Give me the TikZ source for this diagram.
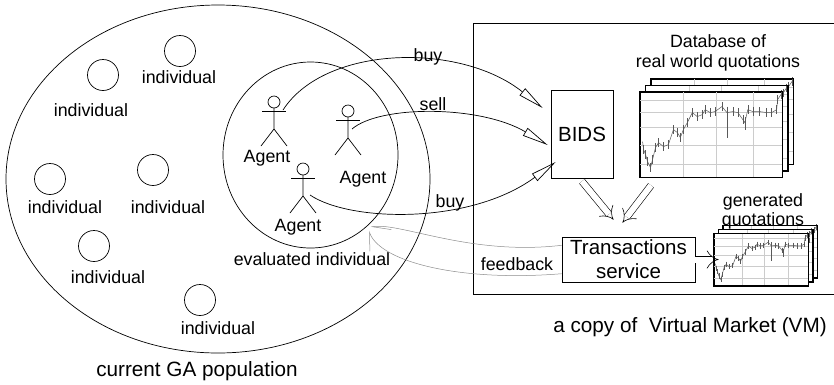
\documentclass[tikz,border=0pt]{standalone}
\usepackage{fontspec}
\setmainfont{Liberation Sans}
\usepackage{tikz}
\usetikzlibrary{arrows.meta, shapes.geometric}
\definecolor{gridgray}{gray}{0.80}
\definecolor{pricegray}{gray}{0.35}
\definecolor{fbgray}{gray}{0.55}

\tikzset{
  pop/.style={draw, ellipse, inner sep=0pt},
  indiv/.style={draw, circle, minimum size=31pt, inner sep=0pt},
  box/.style={draw, inner sep=0pt, align=center, font=\fontsize{20.5}{24}\selectfont},
  caption/.style={font=\fontsize{20.7}{23}\selectfont},
  chart/.style={draw, fill=white, inner sep=0pt, line width=0.8pt},
  gridline/.style={gridgray, line width=0.4pt},
  series/.style={pricegray, line width=0.5pt},
  trade/.style={-{Triangle[open, length=26pt, width=9pt]}},
  feedback/.style={fbgray, line width=0.5pt, -{Straight Barb[harpoon, length=18pt, width=12pt]}},
  bigarrow/.style={double, double distance=6pt, line width=0.6pt, -{Implies}},
}

% price series of one quotation chart, unit box, y runs downwards
\def\pricelist{0.028/0.682, 0.042/0.741, 0.056/0.824, 0.077/0.894, 0.091/0.8,
  0.112/0.659, 0.133/0.6, 0.168/0.647, 0.203/0.624, 0.238/0.447, 0.266/0.482,
  0.287/0.541, 0.308/0.447, 0.336/0.365, 0.371/0.247, 0.406/0.294, 0.441/0.271,
  0.462/0.212, 0.497/0.247, 0.531/0.235, 0.580/0.176, 0.615/0.247, 0.657/0.235,
  0.692/0.247, 0.727/0.329, 0.741/0.365, 0.762/0.212, 0.797/0.235, 0.846/0.235,
  0.895/0.247, 0.930/0.247, 0.965/0.212, 0.972/0.094, 0.995/0.035}

% #1 name, #2 x, #3 y, #4 width, #5 height
\newcommand{\quotechart}[5]{%
  \node[chart, minimum width=#4pt, minimum height=#5pt] (#1) at (#2,#3) {};
  \begin{scope}[shift={(#1.north west)}, xscale=#4, yscale=#5]
    \foreach \gx in {0.308,0.538,0.797}
      \draw[gridline] (\gx,0) -- (\gx,1);
    \foreach \gy in {0.106,0.247,0.424,0.635,0.859}
      \draw[gridline] (0,\gy) -- (1,\gy);
    \draw[series] (0.021,0.588) \foreach \u/\v in \pricelist {-- (\u,\v)};
    \foreach \u/\v in \pricelist
      \draw[series] (\u,\v-0.05) -- (\u,\v+0.05);
    \draw[series] (0.615,0.176) -- (0.615,0.541);
    \draw[series] (0.741,0.3) -- (0.741,0.45);
  \end{scope}
  \draw[line width=0.8pt] (#1.north west) rectangle (#1.south east);
}

% #1 name, #2 x, #3 y of the head
\newcommand{\stickman}[3]{%
  \coordinate (#1) at (#2,#3);
  \draw (#1) circle [radius=6];
  \draw (#2,#3+6) -- (#2,#3+27) -- (#2-13,#3+44);
  \draw (#2,#3+27) -- (#2+13,#3+44);
  \draw (#2-12,#3+9) -- (#2+12,#3+9);
}

\begin{document}
\begin{tikzpicture}[x=1pt, y=-1pt, line width=0.7pt, font=\fontsize{17.8}{20}\selectfont]
  \useasboundingbox (0,0) rectangle (834,384);

  % current population
  \node[pop, minimum width=424pt, minimum height=348pt] (pop) at (218,179) {};
  \node[caption] (poplbl) at (197,371) {current GA population};
  \foreach \cx/\cy/\lx/\ly [count=\i] in {180/51/179/77, 103/75/91/110,
      50/179/65/207, 153/170/168/207, 94/246/108/277, 200/300/218/328} {
    \node[indiv] (ind\i) at (\cx,\cy) {};
    \node (indlbl\i) at (\lx,\ly) {individual};
  }

  % the individual under evaluation and its agents
  \node[pop, minimum width=175pt, minimum height=186pt] (ev) at (310.5,155) {};
  \node (evlbl) at (312,259) {evaluated individual};
  \stickman{ag1}{274}{102}
  \stickman{ag2}{348}{111}
  \stickman{ag3}{303}{169}
  \node[anchor=base] (ag1lbl) at (267,162) {Agent};
  \node[anchor=base] (ag2lbl) at (363,183) {Agent};
  \node[anchor=base] (ag3lbl) at (298,231) {Agent};

  % virtual market
  \draw (834,23) -| (473,294) -- (834,294);
  \node[caption] (vmlbl) at (690,327) {a copy of\ \ Virtual Market (VM)};
  \node[box, minimum width=62pt, minimum height=88pt] (bids) at (582,134) {BIDS};
  \node[box, minimum width=133pt, minimum height=45pt] (trans) at (628.5,259.5) {Transactions\\service};

  % real quotations
  \quotechart{db3}{722}{121.5}{142}{85}
  \quotechart{db2}{716.5}{128}{142}{85}
  \quotechart{db1}{711}{134.5}{142}{85}
  \node[align=center] (dblbl) at (718,53) {Database of\\real world quotations};

  % generated quotations
  \quotechart{gen3}{770}{251.5}{94}{52}
  \quotechart{gen2}{765.5}{255.5}{94}{52}
  \quotechart{gen1}{761}{259.5}{94}{52}
  \node[align=center, font=\fontsize{17.8}{19}\selectfont] (genlbl) at (763,211.5) {generated\\quotations};

  % orders
  \draw[trade] ([xshift=9pt, yshift=-8pt]ag1) .. controls (325,45) and (460,42) .. ([xshift=-8pt, yshift=26pt]bids.west);
  \draw[trade] ([xshift=4pt, yshift=-18pt]ag2) .. controls (380,105) and (480,105) .. ([xshift=-3pt, yshift=-11pt]bids.west);
  \draw[trade] ([xshift=7pt, yshift=-26pt]ag3) .. controls (350,222) and (470,225) .. ([xshift=5pt, yshift=-28pt]bids.west);
  \node[anchor=base] (buy1) at (428,61) {buy};
  \node[anchor=base] (sell) at (433,110.5) {sell};
  \node[anchor=base] (buy2) at (450,207.5) {buy};

  \draw[bigarrow] ([yshift=-3pt]bids.south) -- ([xshift=-15pt, yshift=17pt]trans.north);
  \draw[bigarrow] ([xshift=-60pt, yshift=-8pt]db1.south) -- ([xshift=-6pt, yshift=14pt]trans.north);
  \draw[bigarrow] (trans.east) -- ([xshift=5pt]gen1.west);

  % feedback to the evaluated individual
  \coordinate (fb1) at (371,227);
  \coordinate (fb2) at (369,231);
  \draw[feedback] (trans.168) .. controls (470,256) and (400,222) .. (fb1);
  \draw[feedback] (trans.192) .. controls (460,282) and (380,262) .. (fb2);
  \node (fblbl) at (517,264) {feedback};
\end{tikzpicture}
\end{document}
